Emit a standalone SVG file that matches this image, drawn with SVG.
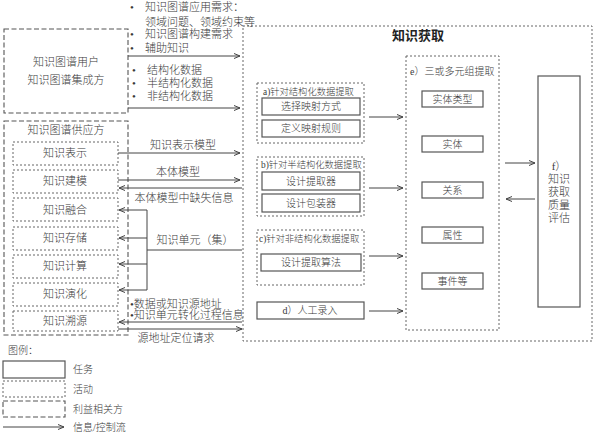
<svg xmlns="http://www.w3.org/2000/svg" width="596" height="436" viewBox="0 0 596 436">
<style>
text{font-family:"Liberation Serif","Noto Sans CJK SC",serif;fill:#3a3a3a;dominant-baseline:central;font-weight:300}
.t11{font-size:11px}
.t10{font-size:10px}
.t95{font-size:9.3px}
.c{text-anchor:middle}
.task{fill:#fff;stroke:#555;stroke-width:1.2}
.act{fill:none;stroke:#666;stroke-width:1;stroke-dasharray:2 2}
.stk{fill:none;stroke:#555;stroke-width:1.1;stroke-dasharray:5 2.5}
.ln{fill:none;stroke:#444;stroke-width:1}
.arr{fill:none;stroke:#444;stroke-width:1;marker-end:url(#ah)}
</style>
<defs>
<marker id="ah" markerWidth="8" markerHeight="8" refX="6" refY="3" orient="auto" markerUnits="userSpaceOnUse">
<path d="M0,0.5 L6,3 L0,5.5" fill="none" stroke="#444" stroke-width="1"/>
</marker>
</defs>
<rect width="596" height="436" fill="#fff"/>

<g id="user">
<rect class="stk" x="4" y="29" width="124" height="84"/>
<text class="t11 c" x="66" y="62">知识图谱用户</text>
<text class="t11 c" x="66" y="80">知识图谱集成方</text>
</g>

<g id="supplier">
<rect class="stk" x="4" y="121" width="124" height="214"/>
<text class="t11 c" x="66" y="130">知识图谱供应方</text>
</g>
<g id="s1"><rect class="act" x="13" y="142" width="105" height="23"/><text class="t11 c" x="65" y="153">知识表示</text></g>
<g id="s2"><rect class="act" x="13" y="170" width="105" height="23"/><text class="t11 c" x="65" y="181">知识建模</text></g>
<g id="s3"><rect class="act" x="13" y="198" width="105" height="23"/><text class="t11 c" x="65" y="210">知识融合</text></g>
<g id="s4"><rect class="act" x="13" y="227" width="105" height="23"/><text class="t11 c" x="65" y="238">知识存储</text></g>
<g id="s5"><rect class="act" x="13" y="255" width="105" height="23"/><text class="t11 c" x="65" y="266">知识计算</text></g>
<g id="s6"><rect class="act" x="13" y="283" width="105" height="23"/><text class="t11 c" x="65" y="294">知识演化</text></g>
<g id="s7"><rect class="act" x="13" y="311" width="105" height="20"/><text class="t11 c" x="65" y="321">知识溯源</text></g>

<g id="acq">
<rect class="act" x="243" y="26" width="349" height="315"/>
<text class="c" x="418" y="35" style="font-size:13px;font-weight:bold;fill:#222">知识获取</text>
</g>

<g id="a">
<rect class="act" x="257" y="83" width="107" height="60"/>
<text class="t95" x="263" y="92">a)针对结构化数据提取</text>
<rect class="task" x="262" y="98" width="98" height="17"/>
<text class="t10 c" x="311" y="106.5">选择映射方式</text>
<rect class="task" x="262" y="120" width="98" height="17"/>
<text class="t10 c" x="311" y="128.5">定义映射规则</text>
</g>
<g id="b">
<rect class="act" x="257" y="157" width="107" height="59"/>
<text class="t95" x="261" y="165">b)针对半结构化数据提取</text>
<rect class="task" x="262" y="172" width="98" height="18"/>
<text class="t10 c" x="311" y="181">设计提取器</text>
<rect class="task" x="262" y="194" width="98" height="18"/>
<text class="t10 c" x="311" y="203">设计包装器</text>
</g>
<g id="c">
<rect class="act" x="257" y="230" width="107" height="55"/>
<text class="t95" x="259" y="239">c)针对非结构化数据提取</text>
<rect class="task" x="261" y="254" width="100" height="17"/>
<text class="t10 c" x="311" y="262.5">设计提取算法</text>
</g>
<g id="d">
<rect class="task" x="257" y="302" width="107" height="17"/>
<text class="t10 c" x="310" y="310.5">d）人工录入</text>
</g>

<g id="e">
<rect class="act" x="406" y="56" width="93" height="274"/>
<text class="t10" x="410" y="71">e）三或多元组提取</text>
<rect class="task" x="422" y="91" width="61" height="16"/><text class="t10 c" x="452.5" y="99">实体类型</text>
<rect class="task" x="422" y="136" width="61" height="16"/><text class="t10 c" x="452.5" y="144">实体</text>
<rect class="task" x="422" y="182" width="61" height="16"/><text class="t10 c" x="452.5" y="190">关系</text>
<rect class="task" x="422" y="227" width="61" height="16"/><text class="t10 c" x="452.5" y="235">属性</text>
<rect class="task" x="422" y="273" width="61" height="16"/><text class="t10 c" x="452.5" y="281">事件等</text>
</g>

<g id="f">
<rect class="task" x="538" y="76" width="42" height="231"/>
<text class="t11 c" x="559" y="166">f）</text>
<text class="t11 c" x="559" y="179">知识</text>
<text class="t11 c" x="559" y="192">获取</text>
<text class="t11 c" x="559" y="205">质量</text>
<text class="t11 c" x="559" y="218">评估</text>
</g>

<g id="connectors">
<path class="arr" d="M128,56 H240"/>
<path class="arr" d="M128,108 H240"/>
<path class="arr" d="M118,153 H240"/>
<path class="arr" d="M118,180 H240"/>
<path class="arr" d="M242,188 H119"/>
<path class="ln" d="M242,250 H147 V290"/>
<path class="arr" d="M147,210 H119"/>
<path class="ln" d="M147,210 V250"/>
<path class="arr" d="M147,238 H119"/>
<path class="arr" d="M147,264 H119"/>
<path class="arr" d="M147,290 H119"/>
<path class="arr" d="M242,322 H119"/>
<path class="arr" d="M118,329 H242"/>
<path class="arr" d="M369,117 H403"/>
<path class="arr" d="M369,188 H403"/>
<path class="arr" d="M369,256 H403"/>
<path class="arr" d="M369,311 H403"/>
<path class="arr" d="M505,163 H535"/>
<path class="arr" d="M535,199 H506"/>
</g>

<g id="labels">
<text class="t11" x="130" y="7">•</text><text class="t11" x="145" y="7">知识图谱应用需求：</text>
<text class="t11" x="145" y="22">领域问题、领域约束等</text>
<text class="t11" x="130" y="34">•</text><text class="t11" x="145" y="34">知识图谱构建需求</text>
<text class="t11" x="130" y="48">•</text><text class="t11" x="145" y="48">辅助知识</text>
<text class="t11" x="132" y="70">•</text><text class="t11" x="147" y="70">结构化数据</text>
<text class="t11" x="132" y="83">•</text><text class="t11" x="147" y="83">半结构化数据</text>
<text class="t11" x="132" y="96">•</text><text class="t11" x="147" y="96">非结构化数据</text>
<text class="t11 c" x="183" y="145">知识表示模型</text>
<text class="t11 c" x="178" y="172">本体模型</text>
<text class="t11 c" x="184" y="198">本体模型中缺失信息</text>
<text class="t11 c" x="195" y="240">知识单元（集）</text>
<text class="t11" x="130" y="304">•数据或知识源地址</text>
<text class="t11" x="130" y="315">•知识单元转化过程信息</text>
<text class="t11 c" x="176" y="338">源地址定位请求</text>
</g>

<g id="legend">
<text class="t10" x="8" y="350">图例：</text>
<rect class="task" x="3" y="361" width="62" height="17"/>
<text class="t10" x="73" y="369.5">任务</text>
<rect class="act" x="3" y="381" width="62" height="16"/>
<text class="t10" x="73" y="389">活动</text>
<rect class="stk" x="3" y="401" width="62" height="16"/>
<text class="t10" x="73" y="409">利益相关方</text>
<path class="arr" d="M3,427 H64"/>
<text class="t10" x="73" y="427">信息/控制流</text>
</g>
</svg>
